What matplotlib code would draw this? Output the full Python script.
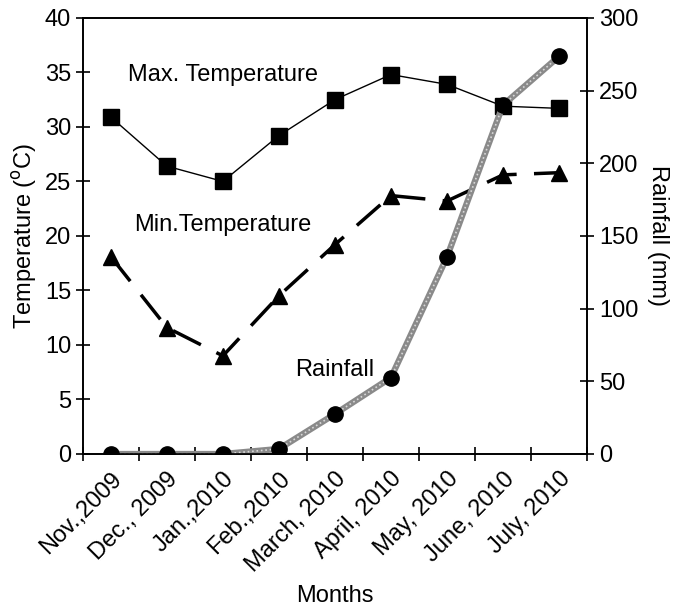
import numpy as np
from matplotlib import pyplot as plt

plt.rcParams['font.family'] = ['Liberation Sans', 'DejaVu Sans']

# Donnees
Mois = ['Nov.,2009', 'Dec., 2009', 'Jan.,2010', 'Feb.,2010', 'March, 2010',
        'April, 2010', 'May, 2010', 'June, 2010', 'July, 2010']
T_max = [30.9, 26.4, 25.0, 29.2, 32.5, 34.8, 33.9, 31.9, 31.7]
T_min = [18.1, 11.6, 9.0, 14.5, 19.2, 23.7, 23.2, 25.6, 25.8]
Pluie = [0, 0, 0, 3.5, 27.5, 52.5, 135.5, 240, 273.5]

x = np.arange(len(Mois))
fs = 17

fig = plt.figure(figsize=(6.79, 6.16), dpi=100)
ax = fig.add_axes([0.122, 0.263, 0.7425, 0.708])
ax2 = ax.twinx()

ax.plot(x, T_max, '-', color='black', linewidth=1, marker='s', markersize=11)
ax.plot(x, T_min, color='black', linewidth=2.5, dashes=(9, 5), marker='^', markersize=12)

# ligne grise epaisse pour la pluie
ax2.plot(x, Pluie, '-', color='#8a8a8a', linewidth=4.5, solid_capstyle='butt')
ax2.plot(x, Pluie, ':', color='#d8d8d8', linewidth=1.2)
ax2.plot(x, Pluie, 'o', color='black', markersize=11)

ax.set_xlim(-0.5, len(Mois) - 0.5)
ax.set_ylim(0, 40)
ax2.set_ylim(0, 300)
ax.set_yticks(range(0, 41, 5))
ax2.set_yticks(range(0, 301, 50))

ax.set_xticks(x)
ax.set_xticklabels(Mois, rotation=45, ha='right', rotation_mode='anchor')
ax.set_xticks(np.arange(-0.5, len(Mois), 1), minor=True)
ax.tick_params(axis='x', which='major', length=0, labelsize=fs, pad=10)
ax.tick_params(axis='x', which='minor', direction='inout', length=10, width=1.2)
ax.tick_params(axis='y', direction='inout', length=10, width=1.2, labelsize=fs)
ax2.tick_params(axis='y', direction='inout', length=10, width=1.2, labelsize=fs)

for sp in ax.spines.values():
    sp.set_linewidth(1.2)
for sp in ax2.spines.values():
    sp.set_linewidth(1.2)

ax.set_ylabel('Temperature ($^{\\mathrm{o}}$C)', fontsize=fs, labelpad=4)
ax2.set_ylabel('Rainfall (mm)', fontsize=fs, rotation=270, labelpad=22)
ax.set_xlabel('Months', fontsize=fs, labelpad=6)

ax.text(2.0, 34.8, 'Max. Temperature', fontsize=fs, ha='center', va='center')
ax.text(2.0, 21.0, 'Min.Temperature', fontsize=fs, ha='center', va='center')
ax.text(4.0, 7.7, 'Rainfall', fontsize=fs, ha='center', va='center')

plt.savefig('out.png', dpi=100)
